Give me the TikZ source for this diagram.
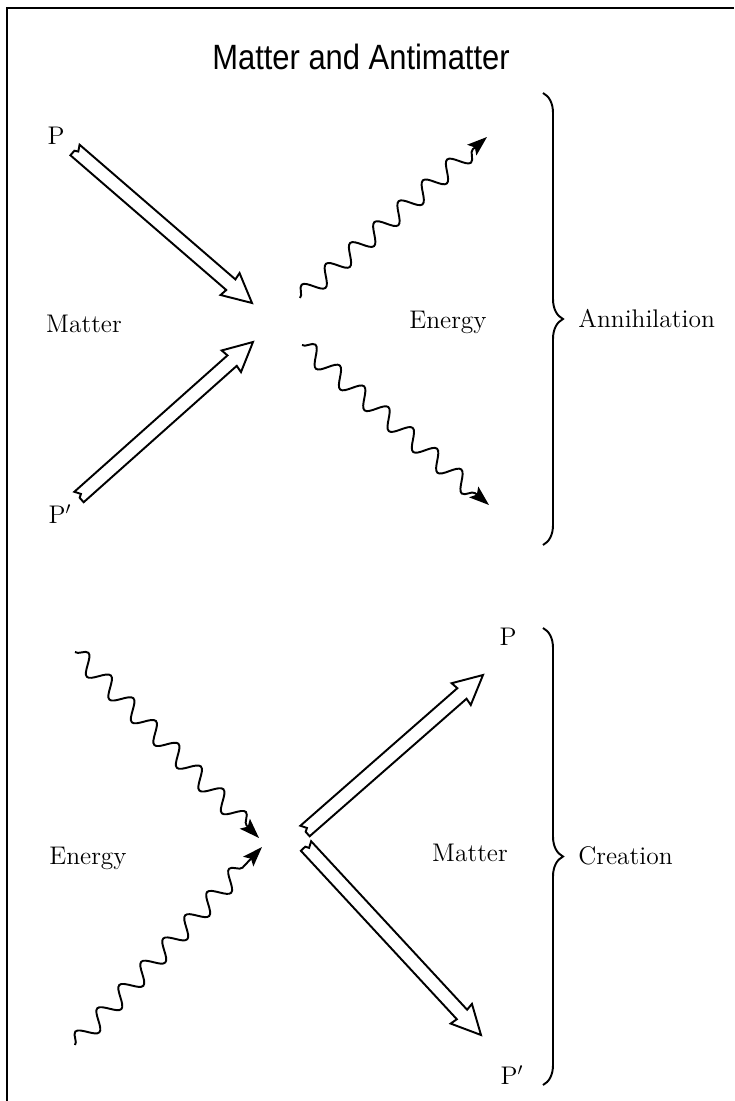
\documentclass[tikz,border=0pt]{standalone}
\usepackage{fontspec}
\newfontfamily\titlefont[FakeStretch=0.88]{Liberation Sans}
\usetikzlibrary{arrows.meta,calc,decorations.pathmorphing,decorations.pathreplacing}

% open block arrow from #1 to #2, small kink at the tail
\newcommand{\hollowarrow}[2]{%
  \draw[hollow] ($(#1)!0.14cm!90:(#2)$)
    -- ($(#2)!0.56cm!(#1)!0.14cm!-90:(#1)$)
    -- ($(#2)!0.58cm!(#1)!0.29cm!-90:(#1)$)
    -- (#2)
    -- ($(#2)!0.58cm!(#1)!0.29cm!90:(#1)$)
    -- ($(#2)!0.56cm!(#1)!0.14cm!90:(#1)$)
    -- ($(#1)!0.14cm!-90:(#2)$)
    -- ($(#1)!0.02cm!-90:(#2)$)
    -- ($(#1)!0.07cm!(#2)!0.02cm!90:(#2)$) -- cycle;}

\begin{document}
\begin{tikzpicture}[x=0.02cm,y=-0.02cm,>=Stealth]
\tikzstyle{lbl}=[font=\fontsize{14.5}{17}\selectfont,inner sep=0pt]
\tikzstyle{hollow}=[draw=black,fill=white,line width=1.1pt,line join=miter]
\tikzstyle{wavy}=[decorate,decoration={snake,segment length=0.64cm,amplitude=0.18cm,post length=0.3cm},line width=1.1pt,-{Stealth[length=0.4cm,width=0.28cm,inset=0.08cm]}]
\tikzstyle{grp}=[decorate,decoration={brace,amplitude=0.4cm},line width=1.1pt]
\useasboundingbox (0,0) rectangle (734,1101);
\draw[line width=1pt] (7,1101) -- (7,8) -- (734,8);
\node[font=\titlefont\fontsize{20}{24}\selectfont] (title) at (361,57) {Matter and Antimatter};

% annihilation
\node[lbl] (pTop) at (56,136) {P};
\node[lbl] (pbTop) at (60,514) {P$^{\prime}$};
\node[lbl] (matterTop) at (84,324) {Matter};
\node[lbl] (energyTop) at (448,322) {Energy};
\node[lbl,anchor=west] (annih) at (578,319) {Annihilation};
\coordinate (pTail) at (75,150);
\coordinate (pTip) at (252,303);
\coordinate (pbTail) at (79,497);
\coordinate (pbTip) at (253,342);
\hollowarrow{pTail}{pTip}
\hollowarrow{pbTail}{pbTip}
\coordinate (w1a) at (300,298);
\coordinate (w1b) at (487,137);
\coordinate (w2a) at (302,345);
\coordinate (w2b) at (489,505);
\draw[wavy] (w1a) -- (w1b);
\draw[wavy] (w2a) -- (w2b);
\coordinate (braceTopA) at (543,93);
\coordinate (braceTopB) at (543,545);
\draw[grp] (braceTopA) -- (braceTopB);

% creation
\node[lbl] (pBot) at (508,637) {P};
\node[lbl] (pbBot) at (512,1075) {P$^{\prime}$};
\node[lbl] (energyBot) at (88,858) {Energy};
\node[lbl] (matterBot) at (470,853) {Matter};
\node[lbl,anchor=west] (creat) at (578,856) {Creation};
\coordinate (w3a) at (75,652);
\coordinate (w3b) at (259,838);
\coordinate (w4a) at (75,1045);
\coordinate (w4b) at (262,847);
\draw[wavy] (w3a) -- (w3b);
\draw[wavy] (w4a) -- (w4b);
\coordinate (qTail) at (305,831);
\coordinate (qTip) at (483,675);
\coordinate (qbTail) at (306,846);
\coordinate (qbTip) at (481,1035);
\hollowarrow{qTail}{qTip}
\hollowarrow{qbTail}{qbTip}
\coordinate (braceBotA) at (543,628);
\coordinate (braceBotB) at (543,1085);
\draw[grp] (braceBotA) -- (braceBotB);
\end{tikzpicture}
\end{document}
